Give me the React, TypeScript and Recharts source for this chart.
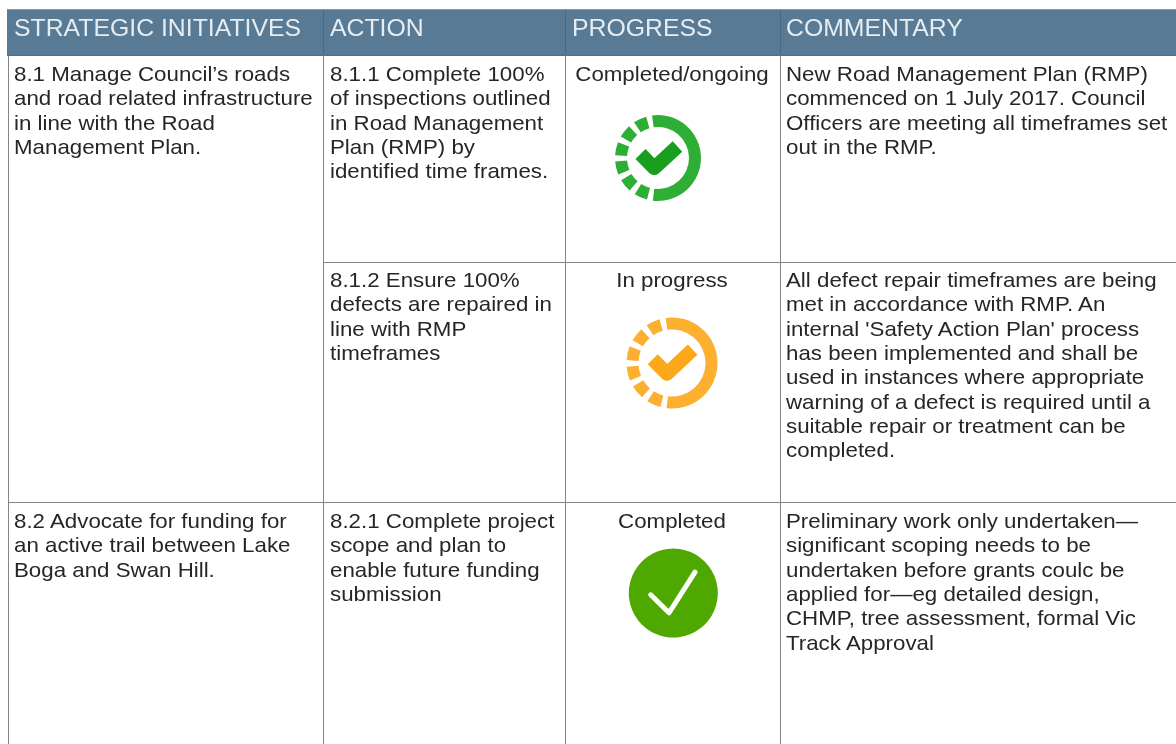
import { PieChart, Pie, Cell, LineChart, Line, XAxis, YAxis } from "recharts";

const headers = ["STRATEGIC INITIATIVES", "ACTION", "PROGRESS", "COMMENTARY"];

const initiative81 = ["8.1 Manage Council’s roads", "and road related infrastructure", "in line with the Road", "Management Plan."];
const initiative82 = ["8.2 Advocate for funding for", "an active trail between Lake", "Boga and Swan Hill."];

const action811 = ["8.1.1 Complete 100%", "of inspections outlined", "in Road Management", "Plan (RMP) by", "identified time frames."];
const action812 = ["8.1.2 Ensure 100%", "defects are repaired in", "line with RMP", "timeframes"];
const action821 = ["8.2.1 Complete project", "scope and plan to", "enable future funding", "submission"];

const progressLabels = ["Completed/ongoing", "In progress", "Completed"];

const comment811 = ["New Road Management Plan (RMP)", "commenced on 1 July 2017. Council", "Officers are meeting all timeframes set", "out in the RMP."];
const comment812 = [
  "All defect repair timeframes are being",
  "met in accordance with RMP. An",
  "internal 'Safety Action Plan' process",
  "has been implemented and shall be",
  "used in instances where appropriate",
  "warning of a defect is required until a",
  "suitable repair or treatment can be",
  "completed.",
];
const comment821 = [
  "Preliminary work only undertaken—",
  "significant scoping needs to be",
  "undertaken before grants coulc be",
  "applied for—eg detailed design,",
  "CHMP, tree assessment, formal Vic",
  "Track Approval",
];

// one long arc, then six dashes with gaps between
const ringSegments = [196, 8, 18, 8.4, 18, 8.4, 18, 8.4, 18, 8.4, 18, 8.4, 18, 8];
const discSegments = [360];

const checkOngoing = [{ x: -17.5, y: -4 }, { x: -3.8, y: 10 }, { x: 19.5, y: -11.5 }];
const checkInProgress = [{ x: -19.3, y: -3.7 }, { x: -5, y: 10.7 }, { x: 20.7, y: -13.3 }];
const checkDone = [{ x: -23.3, y: 1.8 }, { x: -5, y: 19.8 }, { x: 21, y: -20.8 }];

const FONT = '"Liberation Sans", Arial, sans-serif';
const TEXT = "#262626";
const LINE_STEP = 24.35;
const FONT_SIZE = 21;
const STRETCH = 22.3 / 21;
const HEAD_SIZE = 24;
const HEAD_STRETCH = 24.8 / 24;

function Block({ lines, x, y, center }: { lines: string[]; x: number; y: number; center?: boolean }) {
  return (
    <>
      {lines.map((t, i) => (
        <div
          key={i}
          style={{
            position: "absolute",
            left: center ? x - 150 : x,
            width: center ? 300 : undefined,
            textAlign: center ? "center" : "left",
            top: y + i * LINE_STEP - 13,
            height: 26,
            lineHeight: "26px",
            fontSize: FONT_SIZE,
            color: TEXT,
            whiteSpace: "nowrap",
            transform: `scaleX(${STRETCH})`,
            transformOrigin: center ? "center" : "left",
          }}
        >
          {t}
        </div>
      ))}
    </>
  );
}

function Icon({ cx, cy, segments, outer, inner, ring, check, checkColor, checkWidth, cap }: {
  cx: number;
  cy: number;
  segments: number[];
  outer: number;
  inner: number;
  ring: string;
  check: { x: number; y: number }[];
  checkColor: string;
  checkWidth: number;
  cap: "butt" | "round";
}) {
  const data = segments.map((value) => ({ value }));
  return (
    <div style={{ position: "absolute", left: cx - 50, top: cy - 50, width: 100, height: 100 }}>
      <div style={{ position: "absolute", left: 0, top: 0 }}>
        <PieChart width={100} height={100} margin={{ top: 0, right: 0, bottom: 0, left: 0 }}>
          <Pie
            data={data}
            dataKey="value"
            cx={50}
            cy={50}
            startAngle={98}
            endAngle={-262}
            innerRadius={inner}
            outerRadius={outer}
            stroke="none"
            isAnimationActive={false}
          >
            {data.map((_, i) => (
              <Cell key={i} fill={i % 2 === 0 ? ring : "transparent"} />
            ))}
          </Pie>
        </PieChart>
      </div>
      <div style={{ position: "absolute", left: 0, top: 0 }}>
        <LineChart width={100} height={100} data={check} margin={{ top: 0, right: 0, bottom: 0, left: 0 }}>
          <XAxis dataKey="x" type="number" domain={[-50, 50]} hide />
          <YAxis dataKey="y" type="number" domain={[-50, 50]} reversed hide />
          <Line
            dataKey="y"
            type="linear"
            stroke={checkColor}
            strokeWidth={checkWidth}
            strokeLinecap={cap}
            strokeLinejoin="round"
            dot={false}
            isAnimationActive={false}
          />
        </LineChart>
      </div>
    </div>
  );
}

export default function App() {
  const rule = "#858585";
  const colX = [323, 565, 780];
  const headX = [14, 330, 572, 786];
  return (
    <div style={{ position: "absolute", left: 0, top: 0, width: 1176, height: 744, background: "#fff", overflow: "hidden", fontFamily: FONT, filter: "blur(0.45px)" }}>
      {/* header band */}
      <div style={{ position: "absolute", left: 7, top: 9, width: 1169, height: 46, background: "#587a94", borderTop: "1px solid #8d9aa5", boxSizing: "border-box" }} />
      {headers.map((h, i) => (
        <div
          key={h}
          style={{
            position: "absolute",
            left: headX[i],
            top: 13,
            height: 30,
            lineHeight: "30px",
            fontSize: HEAD_SIZE,
            color: "#e6edf2",
            whiteSpace: "nowrap",
            transform: `scaleX(${HEAD_STRETCH})`,
            transformOrigin: "left",
          }}
        >
          {h}
        </div>
      ))}

      {/* grid rules */}
      <div style={{ position: "absolute", left: 7.5, top: 55, width: 1, height: 689, background: rule }} />
      <div style={{ position: "absolute", left: 7, top: 55, width: 1169, height: 1, background: "#5a6b7a" }} />
      <div style={{ position: "absolute", left: 323, top: 262, width: 853, height: 1, background: rule }} />
      <div style={{ position: "absolute", left: 8, top: 502, width: 1168, height: 1, background: rule }} />
      {colX.map((x) => (
        <div key={x} style={{ position: "absolute", left: x, top: 55, width: 1, height: 689, background: rule }} />
      ))}
      {colX.map((x) => (
        <div key={x} style={{ position: "absolute", left: x - 0.5, top: 10, width: 1.5, height: 45, background: "#4a687f" }} />
      ))}

      <Block lines={initiative81} x={14} y={74} />
      <Block lines={initiative82} x={14} y={521} />
      <Block lines={action811} x={330} y={74} />
      <Block lines={action812} x={330} y={280} />
      <Block lines={action821} x={330} y={521} />
      <Block lines={[progressLabels[0]]} x={671.5} y={74} center />
      <Block lines={[progressLabels[1]]} x={671.5} y={280} center />
      <Block lines={[progressLabels[2]]} x={671.5} y={521} center />
      <Block lines={comment811} x={786} y={74} />
      <Block lines={comment812} x={786} y={280} />
      <Block lines={comment821} x={786} y={521} />

      <Icon cx={657.5} cy={157.5} segments={ringSegments} outer={43} inner={31} ring="#2fae35" check={checkOngoing} checkColor="#1a9e1e" checkWidth={14} cap="butt" />
      <Icon cx={672} cy={362.7} segments={ringSegments} outer={45.5} inner={33.5} ring="#fdb02f" check={checkInProgress} checkColor="#fda71a" checkWidth={14} cap="butt" />
      <Icon cx={673.6} cy={592.7} segments={discSegments} outer={44.5} inner={0} ring="#4fa800" check={checkDone} checkColor="#ffffff" checkWidth={5} cap="round" />
    </div>
  );
}
